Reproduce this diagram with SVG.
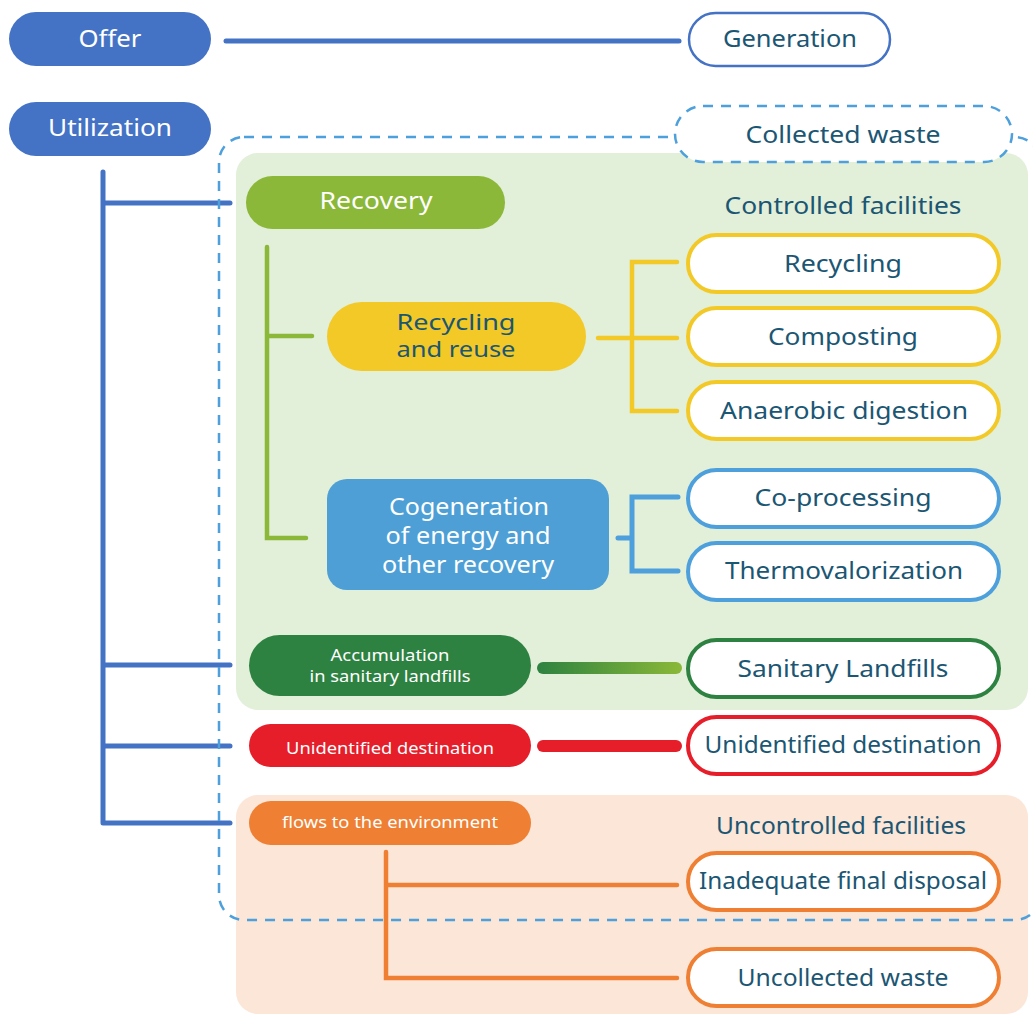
<svg xmlns="http://www.w3.org/2000/svg" width="1033" height="1016" viewBox="0 0 1033 1016">
<defs>
<linearGradient id="gLand" gradientUnits="userSpaceOnUse" x1="538" y1="668" x2="682" y2="668">
<stop offset="0" stop-color="#2e8241"/>
<stop offset="1" stop-color="#8bb838"/>
</linearGradient>
<style>
text{font-family:"Noto Sans","Open Sans","Liberation Sans",sans-serif;text-anchor:middle;dominant-baseline:central}
.w{fill:#ffffff}
.d{fill:#1b5673}
.t22{font-size:23px}
.t21{font-size:21px}
.t16{font-size:17px}
.ol{fill:#ffffff;stroke-width:4}
.ln{fill:none;stroke-linecap:round;stroke-linejoin:miter}
</style>
</defs>
<rect width="1033" height="1016" fill="#ffffff"/>
<g id="regions">
<rect id="controlled-region" x="236" y="153" width="792" height="557" rx="22" fill="#e2efd9"/>
<rect id="uncontrolled-region" x="236" y="795" width="792" height="219" rx="22" fill="#fbe6d8"/>
</g>
<g id="connectors">
<line class="ln" x1="226" y1="41" x2="679" y2="41" stroke="#4472c4" stroke-width="5"/>
<path class="ln" d="M103 172 V823 M103 203 H230 M103 665 H230 M103 746 H230 M103 823 H230" stroke="#4472c4" stroke-width="5" stroke-linecap="butt"/>
<path class="ln" d="M267 247 V538 H306 M267 336 H312" stroke="#8bb838" stroke-width="4.5"/>
<path class="ln" d="M598 338 H677 M677 262 H632 V411 H677" stroke="#f2c927" stroke-width="4.5"/>
<path class="ln" d="M618 538 H632 M678 497 H632 V571 H678" stroke="#4da0dc" stroke-width="5"/>
<line class="ln" x1="543" y1="668" x2="676" y2="668" stroke="url(#gLand)" stroke-width="12"/>
<line class="ln" x1="543" y1="746" x2="676" y2="746" stroke="#e51e2a" stroke-width="12"/>
<path class="ln" d="M386 852 V978 H677 M386 885 H677" stroke="#ee7f33" stroke-width="4.5"/>
</g>
<g id="collected-boundary">
<rect x="219" y="137" width="821" height="783" rx="25" fill="none" stroke="#4da0dc" stroke-width="2.5" stroke-dasharray="10 8"/>
</g>
<g id="offer"><rect x="9" y="12" width="202" height="54" rx="27" fill="#4472c4"/><text class="w t22" x="110" y="37.5" textLength="63" lengthAdjust="spacingAndGlyphs">Offer</text></g>
<g id="generation"><rect x="689" y="13" width="201" height="53" rx="26.5" fill="#ffffff" stroke="#4472c4" stroke-width="2.5"/><text class="d t22" x="790" y="38" textLength="134" lengthAdjust="spacingAndGlyphs">Generation</text></g>
<g id="utilization"><rect x="9" y="102" width="202" height="54" rx="27" fill="#4472c4"/><text class="w t22" x="110" y="127" textLength="124" lengthAdjust="spacingAndGlyphs">Utilization</text></g>
<g id="collected-waste"><rect x="675" y="106" width="337" height="56" rx="28" fill="#ffffff" stroke="#4da0dc" stroke-width="2.5" stroke-dasharray="10 8"/><text class="d t22" x="843" y="134" textLength="195" lengthAdjust="spacingAndGlyphs">Collected waste</text></g>
<g id="controlled-label"><text class="d t22" x="843" y="205" textLength="237" lengthAdjust="spacingAndGlyphs">Controlled facilities</text></g>
<g id="recovery"><rect x="246" y="176" width="259" height="53" rx="26.5" fill="#8bb838"/><text class="w t22" x="376" y="200" textLength="113" lengthAdjust="spacingAndGlyphs">Recovery</text></g>
<g id="recycling-reuse"><rect x="327" y="302" width="259" height="69" rx="34.5" fill="#f2c927"/><text class="d t21" x="456" y="322" textLength="119" lengthAdjust="spacingAndGlyphs">Recycling</text><text class="d t21" x="456" y="348.5" textLength="119" lengthAdjust="spacingAndGlyphs">and reuse</text></g>
<g id="recycling"><rect class="ol" x="688" y="235" width="311" height="57" rx="28.5" stroke="#f2c927"/><text class="d t22" x="843" y="263" textLength="118" lengthAdjust="spacingAndGlyphs">Recycling</text></g>
<g id="composting"><rect class="ol" x="688" y="308" width="311" height="57" rx="28.5" stroke="#f2c927"/><text class="d t22" x="843" y="336" textLength="150" lengthAdjust="spacingAndGlyphs">Composting</text></g>
<g id="anaerobic"><rect class="ol" x="688" y="382" width="311" height="57" rx="28.5" stroke="#f2c927"/><text class="d t22" x="844" y="410" textLength="248" lengthAdjust="spacingAndGlyphs">Anaerobic digestion</text></g>
<g id="cogeneration"><rect x="327" y="479" width="282" height="111" rx="20" fill="#4d9fd6"/><text class="w t22" x="469" y="506" textLength="160" lengthAdjust="spacingAndGlyphs">Cogeneration</text><text class="w t22" x="468" y="535" textLength="165" lengthAdjust="spacingAndGlyphs">of energy and</text><text class="w t22" x="468" y="564" textLength="172" lengthAdjust="spacingAndGlyphs">other recovery</text></g>
<g id="co-processing"><rect class="ol" x="688" y="470" width="311" height="57" rx="28.5" stroke="#4da0dc"/><text class="d t22" x="843" y="497" textLength="177" lengthAdjust="spacingAndGlyphs">Co-processing</text></g>
<g id="thermovalorization"><rect class="ol" x="688" y="543" width="311" height="57" rx="28.5" stroke="#4da0dc"/><text class="d t22" x="844" y="570" textLength="238" lengthAdjust="spacingAndGlyphs">Thermovalorization</text></g>
<g id="accumulation"><rect x="249" y="635" width="282" height="61" rx="30.5" fill="#2e8241"/><text class="w t16" x="390" y="654" textLength="119" lengthAdjust="spacingAndGlyphs">Accumulation</text><text class="w t16" x="390" y="675" textLength="161" lengthAdjust="spacingAndGlyphs">in sanitary landfills</text></g>
<g id="sanitary-landfills"><rect class="ol" x="688" y="640" width="311" height="57" rx="28.5" stroke="#2e8241"/><text class="d t22" x="843" y="668" textLength="211" lengthAdjust="spacingAndGlyphs">Sanitary Landfills</text></g>
<g id="unidentified-left"><rect x="249" y="724" width="282" height="43" rx="21.5" fill="#e51e2a"/><text class="w t16" x="390" y="747" textLength="208" lengthAdjust="spacingAndGlyphs">Unidentified destination</text></g>
<g id="unidentified-right"><rect class="ol" x="688" y="717" width="311" height="57" rx="28.5" stroke="#e51e2a"/><text class="d t22" x="843" y="744" textLength="277" lengthAdjust="spacingAndGlyphs">Unidentified destination</text></g>
<g id="flows"><rect x="249" y="801" width="282" height="44" rx="22" fill="#ee7f33"/><text class="w t16" x="390" y="821" textLength="216" lengthAdjust="spacingAndGlyphs">flows to the environment</text></g>
<g id="uncontrolled-label"><text class="d t22" x="841" y="825" textLength="250" lengthAdjust="spacingAndGlyphs">Uncontrolled facilities</text></g>
<g id="inadequate"><rect class="ol" x="688" y="853" width="311" height="57" rx="28.5" stroke="#ee7f33"/><text class="d t22" x="843" y="880" textLength="288" lengthAdjust="spacingAndGlyphs">Inadequate final disposal</text></g>
<g id="uncollected"><rect class="ol" x="688" y="949" width="311" height="57" rx="28.5" stroke="#ee7f33"/><text class="d t22" x="843" y="977" textLength="211" lengthAdjust="spacingAndGlyphs">Uncollected waste</text></g>
</svg>
